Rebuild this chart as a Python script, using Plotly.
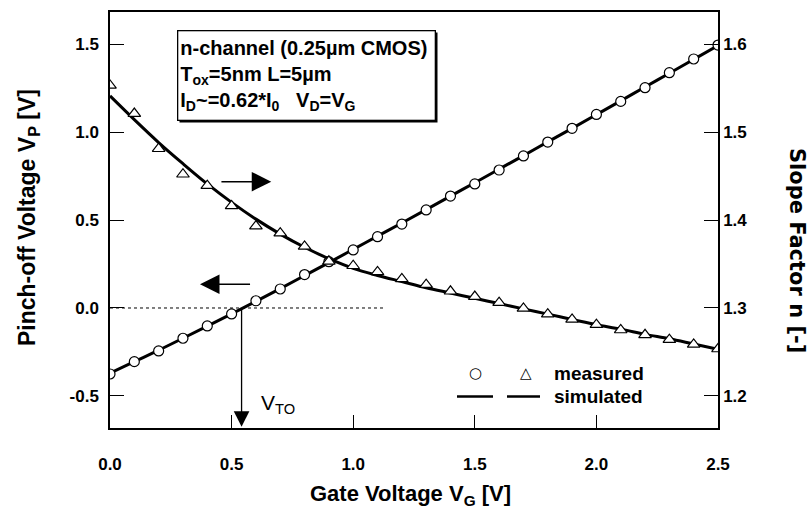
import plotly.graph_objects as go

# gate voltage grid (V)
vg = [0.0, 0.1, 0.2, 0.3, 0.4, 0.5, 0.6, 0.7, 0.8, 0.9, 1.0, 1.1, 1.2,
      1.3, 1.4, 1.5, 1.6, 1.7, 1.8, 1.9, 2.0, 2.1, 2.2, 2.3, 2.4, 2.5]

# pinch-off voltage (left axis)
vp_meas = [-0.375, -0.305, -0.244, -0.172, -0.102, -0.034, 0.041, 0.108, 0.19,
           0.263, 0.33, 0.405, 0.477, 0.557, 0.636, 0.705, 0.784, 0.864, 0.943,
           1.021, 1.10, 1.174, 1.252, 1.337, 1.415, 1.494]
vp_sim = [-0.37, -0.305, -0.240, -0.172, -0.103, -0.033, 0.038, 0.110, 0.184,
          0.258, 0.333, 0.408, 0.483, 0.559, 0.636, 0.712, 0.789, 0.866, 0.944,
          1.021, 1.099, 1.177, 1.256, 1.334, 1.413, 1.492]

# slope factor (right axis)
n_meas = [1.553, 1.521, 1.481, 1.452, 1.439, 1.416, 1.393, 1.385, 1.370, 1.353,
          1.348, 1.341, 1.333, 1.3265, 1.319, 1.313, 1.306, 1.2995, 1.293, 1.287,
          1.281, 1.275, 1.2695, 1.264, 1.2586, 1.2534]
n_sim = [1.541, 1.514, 1.488, 1.464, 1.441, 1.420, 1.401, 1.384, 1.369, 1.356,
         1.345, 1.337, 1.330, 1.323, 1.317, 1.311, 1.305, 1.299, 1.293, 1.287,
         1.281, 1.276, 1.270, 1.265, 1.259, 1.253]

vp_range = [-0.682, 1.682]
n_range = [1.3 + 0.2 * v for v in vp_range]

FONT = "Liberation Sans, Arial, sans-serif"


def px(x):
    # screen pixel -> paper x
    return (x - 110) / 608


def py(y):
    # screen pixel -> paper y
    return (428 - y) / 416


def note(x, y, text, font, **kw):
    opts = dict(xanchor="center", yanchor="middle")
    opts.update(kw)
    fig.add_annotation(x=px(x), y=py(y), xref="paper", yref="paper",
                       text=text, showarrow=False, font=font, **opts)


fig = go.Figure()
fig.add_trace(go.Scatter(x=vg, y=vp_sim, mode="lines",
                         line=dict(color="black", width=3, shape="spline")))
fig.add_trace(go.Scatter(x=vg, y=n_sim, mode="lines", yaxis="y2",
                         line=dict(color="black", width=3, shape="spline")))
fig.add_trace(go.Scatter(x=vg, y=vp_meas, mode="markers",
                         marker=dict(symbol="circle", size=10, color="white",
                                     line=dict(color="black", width=1.2))))
fig.add_trace(go.Scatter(x=vg, y=n_meas, mode="markers", yaxis="y2",
                         marker=dict(symbol="triangle-up", size=11, color="white",
                                     line=dict(color="black", width=1.2))))

# dotted zero line and V_TO drop line
fig.add_shape(type="line", x0=0, x1=1.13, y0=0, y1=0, xref="x", yref="y",
              line=dict(color="black", width=1, dash="dot"))
fig.add_annotation(x=0.541, y=-0.675, ax=0.541, ay=0, xref="x", yref="y",
                   axref="x", ayref="y", showarrow=True, arrowhead=2,
                   arrowsize=2.4, arrowwidth=1.3, arrowcolor="black", text="")
note(259, 404, "V<sub>TO</sub>", dict(family=FONT, size=21, color="black"), xanchor="left")

# direction arrows
fig.add_annotation(x=0.663, y=0.718, ax=0.452, ay=0.718, xref="x", yref="y",
                   axref="x", ayref="y", showarrow=True, arrowhead=2,
                   arrowsize=2.6, arrowwidth=1.5, arrowcolor="black", text="")
fig.add_annotation(x=0.370, y=0.135, ax=0.582, ay=0.135, xref="x", yref="y",
                   axref="x", ayref="y", showarrow=True, arrowhead=2,
                   arrowsize=2.6, arrowwidth=1.5, arrowcolor="black", text="")

# info box with shadow
fig.add_shape(type="rect", xref="paper", yref="paper",
              x0=px(179.5), x1=px(437.5), y0=py(122.5), y1=py(32.5),
              fillcolor="black", line=dict(width=0), layer="above")
fig.add_annotation(x=px(177), y=py(30), xref="paper", yref="paper",
                   xanchor="left", yanchor="top", align="left", showarrow=False,
                   text="n-channel (0.25µm CMOS)<br>T<sub>ox</sub>=5nm L=5µm"
                        "<br>I<sub>D</sub>~=0.62*I<sub>0</sub>   V<sub>D</sub>=V<sub>G</sub>",
                   font=dict(family=FONT, size=20, color="black", weight="bold"),
                   bgcolor="white", bordercolor="black", borderwidth=1.3, borderpad=2,
                   width=252, height=84)

# legend
leg = dict(family=FONT, size=19, color="black", weight="bold")
sym = dict(family="DejaVu Sans", size=15, color="black")
note(475, 373, "○", sym)
note(526, 373, "△", sym)
note(552, 373, "measured", leg, xanchor="left")
note(552, 396, "simulated", leg, xanchor="left")
for a, b in [(457, 493), (507, 540)]:
    fig.add_shape(type="line", xref="paper", yref="paper",
                  x0=px(a), x1=px(b), y0=py(396.5), y1=py(396.5),
                  line=dict(color="black", width=2.5))

# axis titles
title_font = dict(family=FONT, size=23, color="black", weight="bold")
note(28, 218, "Pinch-off Voltage V<sub>P</sub> [V]", title_font, textangle=-90)
note(797, 250, "Slope Factor n [-]",
     dict(family="DejaVu Sans", size=21, color="black", weight="bold"), textangle=90)
note(410, 495, "Gate Voltage V<sub>G</sub> [V]", dict(title_font, size=22))

tick_font = dict(family=FONT, size=17, color="black", weight="bold")
common = dict(ticks="inside", ticklen=14, tickwidth=1.3, tickcolor="black",
              showline=True, linecolor="black", linewidth=1.5,
              showgrid=False, zeroline=False, tickfont=tick_font, automargin=False)
fig.update_layout(
    width=812, height=513,
    margin=dict(l=110, r=94, t=12, b=85),
    paper_bgcolor="white", plot_bgcolor="white",
    showlegend=False,
    xaxis=dict(range=[0, 2.5], tickvals=[0, 0.5, 1, 1.5, 2, 2.5],
               ticktext=["0.0", "0.5", "1.0", "1.5", "2.0", "2.5"],
               mirror=True, ticklabelstandoff=20, **dict(common, ticklen=13)),
    yaxis=dict(range=vp_range, tickvals=[-0.5, 0, 0.5, 1, 1.5],
               ticktext=["-0.5", "0.0", "0.5", "1.0", "1.5"],
               ticklabelstandoff=6, **common),
    yaxis2=dict(range=n_range, overlaying="y", side="right",
                tickvals=[1.2, 1.3, 1.4, 1.5, 1.6],
                ticklabelstandoff=0, **common),
)

# drop the default page margin so the figure fills the window exactly
fig.write_html("out.html", config={"displayModeBar": False},
               post_script="document.body.style.margin='0px';"
                           "document.body.style.overflow='hidden';")
